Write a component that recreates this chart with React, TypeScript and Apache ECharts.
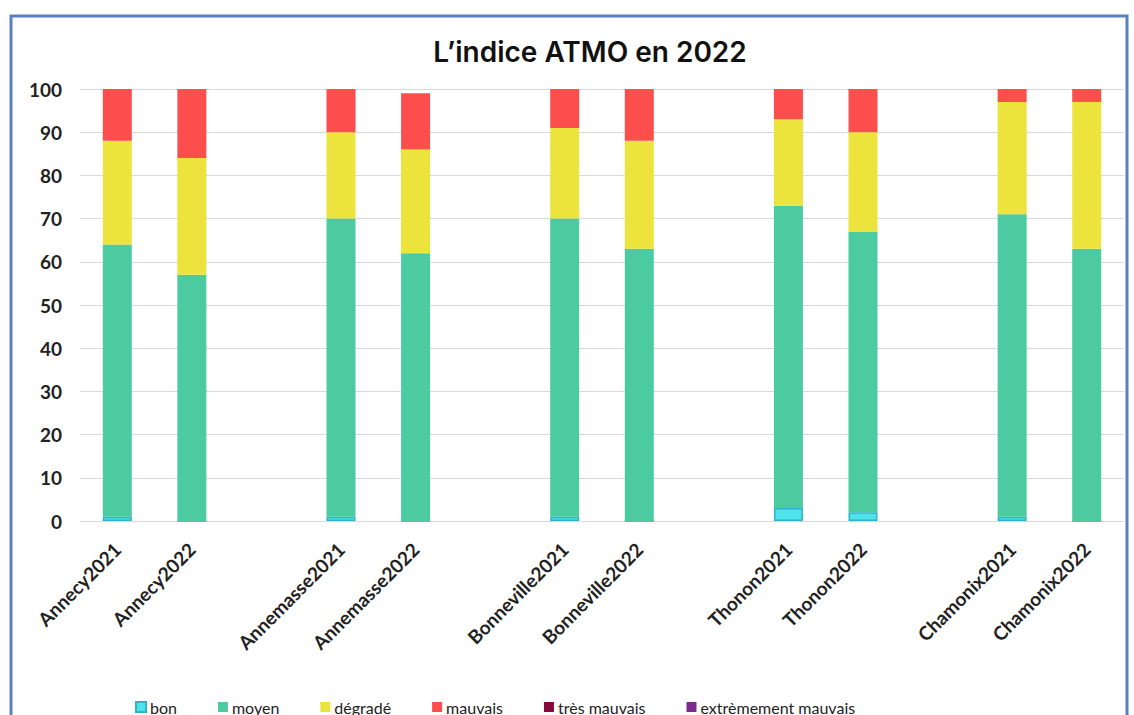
import React, { useEffect, useRef } from "react";
import * as echarts from "echarts";

const categories = [
  "Annecy2021", "Annecy2022", "",
  "Annemasse2021", "Annemasse2022", " ",
  "Bonneville2021", "Bonneville2022", "  ",
  "Thonon2021", "Thonon2022", "   ",
  "Chamonix2021", "Chamonix2022",
];
const bon =      [1, 0, null, 1, 0, null, 1, 0, null, 3, 2, null, 1, 0];
const moyen =    [63, 57, null, 69, 62, null, 69, 63, null, 70, 65, null, 70, 63];
const degrade =  [24, 27, null, 20, 24, null, 21, 25, null, 20, 23, null, 26, 34];
const mauvais =  [12, 16, null, 10, 13, null, 9, 12, null, 7, 10, null, 3, 3];
const tresMauvais = [0, 0, null, 0, 0, null, 0, 0, null, 0, 0, null, 0, 0];
const extMauvais =  [0, 0, null, 0, 0, null, 0, 0, null, 0, 0, null, 0, 0];
const yTicks = [0, 10, 20, 30, 40, 50, 60, 70, 80, 90, 100];

export default function App() {
  const ref = useRef<HTMLDivElement>(null);
  useEffect(() => {
    if (!ref.current) return;
    const chart = echarts.init(ref.current, null, { renderer: "svg" });
    const mk = (name: string, data: any[], color: string, border?: string) => ({
      name,
      type: "bar",
      stack: "total",
      data,
      barWidth: 29,
      itemStyle: border
        ? { color, borderColor: border, borderWidth: 1.5 }
        : { color },
    });
    chart.setOption({
      animation: false,
      backgroundColor: "#ffffff",
      title: {
        text: "L\u2019indice ATMO en 2022",
        left: 585,
        top: 33,
        textAlign: "center",
        textStyle: { fontFamily: "Inter", fontWeight: 600, fontSize: 28, color: "#111" },
      },
      graphic: [
        {
          type: "rect",
          shape: { x: 11, y: 16, width: 1116, height: 720 },
          style: { fill: "none", stroke: "#5a80bd", lineWidth: 3 },
          silent: true,
        },
      ],
      legend: {
        left: 130,
        top: 694,
        itemWidth: 10,
        itemHeight: 10,
        itemGap: 41,
        icon: "rect",
        textStyle: { fontFamily: "Lato", fontSize: 16, color: "#222", padding: [0, 0, 0, -1] },
        data: ["bon", "moyen", "dégradé", "mauvais", "très mauvais", "extrèmement mauvais"],
      },
      grid: { left: 80, right: 10, top: 89, bottom: 194 },
      xAxis: {
        type: "category",
        data: categories,
        axisLine: { lineStyle: { color: "#d9d9d9" } },
        axisTick: { show: false },
        axisLabel: {
          rotate: 45,
          interval: 0,
          margin: 25,
          fontFamily: "Lato",
          fontWeight: "bold",
          fontSize: 19,
          color: "#222",
        },
      },
      yAxis: {
        type: "value",
        min: yTicks[0],
        max: yTicks[yTicks.length - 1],
        interval: 10,
        axisLine: { show: false },
        axisTick: { show: false },
        splitLine: { lineStyle: { color: "#d9d9d9" } },
        axisLabel: {
          margin: 18,
          fontFamily: "Lato",
          fontWeight: "bold",
          fontSize: 19,
          color: "#222",
        },
      },
      series: [
        mk("bon", bon, "#4fe3ea", "#2fb3c6"),
        mk("moyen", moyen, "#4ccaa0"),
        mk("dégradé", degrade, "#ece43c"),
        mk("mauvais", mauvais, "#fd4e4e"),
        mk("très mauvais", tresMauvais, "#8b0a3a"),
        mk("extrèmement mauvais", extMauvais, "#7b2a8e"),
      ],
    });
    return () => chart.dispose();
  }, []);
  return (
    <div
      ref={ref}
      style={{ position: "fixed", left: 0, top: 0, width: 1134, height: 715 }}
    />
  );
}
